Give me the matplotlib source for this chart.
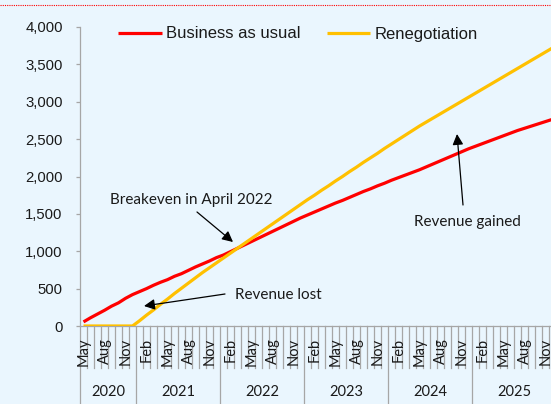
import matplotlib
matplotlib.use("Agg")
import matplotlib.pyplot as plt
import matplotlib.transforms as mtransforms
from matplotlib.lines import Line2D

# ---------------- data ----------------
month_names = ["Jan", "Feb", "Mar", "Apr", "May", "Jun", "Jul", "Aug", "Sep", "Oct", "Nov", "Dec"]
start_year = 2020
start_month = 5  # May 2020
years = [2020, 2021, 2022, 2023, 2024, 2025]

business_as_usual = [
    55, 110, 160, 210, 265, 310, 370, 420,                                # 2020 May-Dec
    460, 500, 545, 585, 620, 665, 700, 745, 790, 830, 870, 915,           # 2021
    950, 995, 1040, 1085, 1130, 1175, 1220, 1265, 1310, 1355, 1400, 1445, # 2022
    1485, 1525, 1565, 1605, 1645, 1680, 1720, 1760, 1800, 1835, 1875, 1910,  # 2023
    1950, 1985, 2020, 2055, 2090, 2130, 2170, 2210, 2250, 2290, 2330, 2370,  # 2024
    2405, 2440, 2475, 2510, 2545, 2580, 2615, 2645, 2675, 2705, 2735, 2765,  # 2025
]
renegotiation = [
    0, 0, 0, 0, 0, 0, 0, 0,                                               # 2020 May-Dec
    70, 145, 215, 290, 360, 435, 505, 575, 645, 715, 780, 845,            # 2021
    910, 975, 1040, 1105, 1170, 1235, 1300, 1365, 1430, 1495, 1560, 1625, # 2022
    1690, 1750, 1815, 1875, 1940, 2000, 2065, 2125, 2190, 2250, 2310, 2375,  # 2023
    2435, 2495, 2555, 2615, 2675, 2730, 2785, 2840, 2895, 2950, 3005, 3060,  # 2024
    3115, 3170, 3225, 3280, 3335, 3390, 3445, 3500, 3555, 3610, 3665, 3720,  # 2025
]
series_labels = ["Business as usual", "Renegotiation"]
y_ticks = [0, 500, 1000, 1500, 2000, 2500, 3000, 3500, 4000]
labeled_months = ["Feb", "May", "Aug", "Nov"]

# ---------------- style ----------------
BG = "#EAF6FE"
RED = "#FF0000"
YELLOW = "#FFC000"
GRAY = "#A6A6A6"
W, H = 551, 404

plt.rcParams["font.family"] = ["Liberation Sans", "DejaVu Sans"]
fig = plt.figure(figsize=(W / 100, H / 100), dpi=100, facecolor=BG)

ax_left, ax_right = 80, 551
ax_top, ax_bottom = 27, 326
ax = fig.add_axes([ax_left / W, 1 - ax_bottom / H,
                   (ax_right - ax_left) / W, (ax_bottom - ax_top) / H])
ax.set_facecolor(BG)

n = len(business_as_usual)
x = list(range(n))
month_px = 7.0
ax.set_xlim(-0.5, -0.5 + (ax_right - ax_left) / month_px)
ax.set_ylim(0, 4000)

ax.plot(x, business_as_usual, color=RED, lw=2.3, solid_capstyle="butt", zorder=3,
        label=series_labels[0])
ax.plot(x, renegotiation, color=YELLOW, lw=2.3, solid_capstyle="butt", zorder=3,
        label=series_labels[1])

# spines
for s in ["top", "right"]:
    ax.spines[s].set_visible(False)
ax.spines["left"].set_color(GRAY)
ax.spines["bottom"].set_color(GRAY)
ax.spines["left"].set_linewidth(0.9)
ax.spines["bottom"].set_linewidth(0.9)

# y axis
ax.set_yticks(y_ticks)
ax.set_yticklabels([f"{v:,}" for v in y_ticks], fontsize=10.7, color="#1a1a1a")
ax.tick_params(axis="y", length=3, width=0.9, color=GRAY, pad=9.5)

# x axis: month labels
month_labels_pos, month_labels_txt = [], []
for i in range(n):
    m = (start_month - 1 + i) % 12
    if month_names[m] in labeled_months:
        month_labels_pos.append(i)
        month_labels_txt.append(month_names[m])
ax.set_xticks(month_labels_pos)
ax.set_xticklabels(month_labels_txt, rotation=90, fontsize=10.5,
                   family=["Lato", "DejaVu Sans"], color="#1a1a1a")
ax.tick_params(axis="x", length=0, pad=8.5)

# category separators
trans = mtransforms.blended_transform_factory(ax.transData, ax.transAxes)
h_px = ax_bottom - ax_top
month_depth = -(368 - ax_bottom) / h_px
year_depth = -(H - ax_bottom + 2) / h_px
year_starts = []
for i in range(n + 1):
    m = (start_month - 1 + i) % 12
    xb = i - 0.5
    if i == 0 or m == 0:
        year_starts.append(xb)
        depth = year_depth
    else:
        depth = month_depth
    ax.add_line(Line2D([xb, xb], [0, depth], transform=trans, color=GRAY,
                       lw=0.9, clip_on=False, zorder=1))

# year labels
year_edges = year_starts + [n - 0.5]
for k, yr in enumerate(years):
    xc = (year_edges[k] + year_edges[k + 1]) / 2
    ax.text(xc, -(392 - ax_bottom) / h_px, str(yr), transform=trans,
            ha="center", va="center", fontsize=10.5,
            family=["Lato", "DejaVu Sans"], color="#1a1a1a", clip_on=False)

# legend
leg = ax.legend(loc="center", bbox_to_anchor=(298 / W, 1 - 34 / H),
                bbox_transform=fig.transFigure, ncol=2, frameon=False,
                fontsize=12, handlelength=2.6, handletextpad=0.25,
                columnspacing=1.6)
for t in leg.get_texts():
    t.set_color("#1a1a1a")

# annotations (pixel-positioned text, arrows between figure pixels)
def fpx(px, py):
    return (px / W, 1 - py / H)

ann_kw = dict(fontsize=11, family=["Lato", "DejaVu Sans"], color="#1a1a1a")
arrow_kw = dict(arrowstyle="-|>", color="black", lw=0.9, mutation_scale=16,
                shrinkA=0, shrinkB=0)

fig.text(*fpx(191, 200), "Breakeven in April 2022", ha="center", va="center", **ann_kw)
ax.annotate("", xy=fpx(233, 242), xytext=fpx(197, 212),
            xycoords="figure fraction", textcoords="figure fraction",
            arrowprops=arrow_kw)

fig.text(*fpx(235, 295), "Revenue lost", ha="left", va="center", **ann_kw)
ax.annotate("", xy=fpx(144, 306), xytext=fpx(225, 294),
            xycoords="figure fraction", textcoords="figure fraction",
            arrowprops=arrow_kw)

fig.text(*fpx(467, 222), "Revenue gained", ha="center", va="center", **ann_kw)
ax.annotate("", xy=fpx(457, 134), xytext=fpx(463, 205),
            xycoords="figure fraction", textcoords="figure fraction",
            arrowprops=arrow_kw)

# dotted red border line at top
fig.add_artist(Line2D([0, 1], [1 - 5 / H, 1 - 5 / H], transform=fig.transFigure,
                      color=RED, lw=0.8, linestyle=(0, (1, 1))))

fig.savefig("out.png", dpi=100, facecolor=BG)
